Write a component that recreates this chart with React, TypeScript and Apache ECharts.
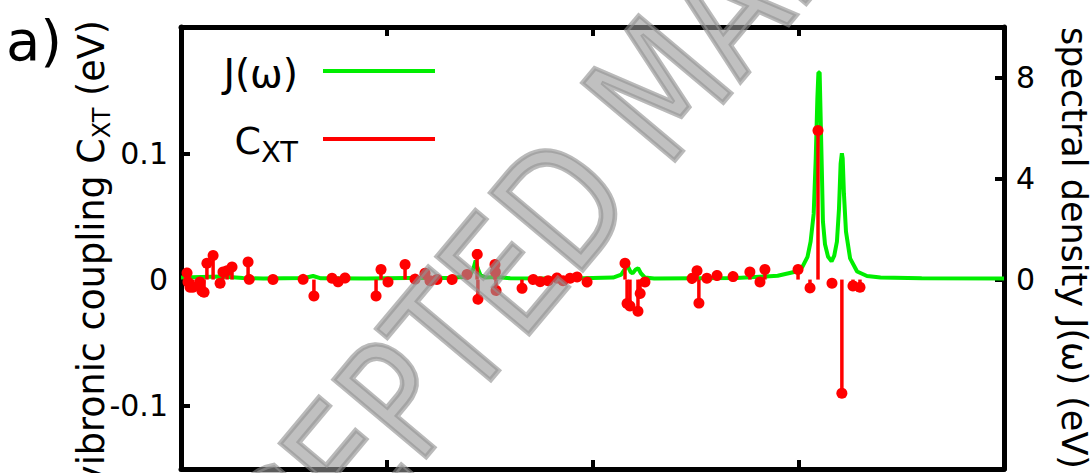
import React, { useEffect, useRef } from 'react';
import * as echarts from 'echarts';

// x axis (frequency) tick positions
const xTicks = [0, 1000, 2000, 3000, 4000];
// left axis: vibronic coupling C_XT (eV)
const leftTicks = [-0.1, 0, 0.1];
// right axis: spectral density J(w) (eV)
const rightTicks = [0, 4, 8];

// C_XT impulses: frequency and coupling value
const couplingFreq = [
  29, 34, 44, 58, 92, 102, 112, 126, 156, 190, 204, 224, 248, 326, 331, 447, 593, 646, 734, 763,
  797, 948, 972, 1006, 1089, 1137, 1186, 1210, 1244, 1317, 1390, 1439, 1443, 1526, 1528, 1531, 1657, 1711, 1745, 1784,
  1827, 1857, 1891, 1925, 1973, 2158, 2168, 2182, 2221, 2231, 2255, 2483, 2508, 2517, 2556, 2605, 2683, 2765, 2814, 2838,
  2999, 3057, 3096, 3164, 3212, 3266, 3300,
];
const couplingValue = [
  0.006, -0.002, -0.006, -0.006, -0.002, -0.009, -0.01, 0.013, 0.019, -0.003, 0.006, 0.007, 0.01, 0.014, 0.001, 0.0, 0.001, -0.013, 0.001, -0.001,
  0.002, -0.013, 0.008, -0.002, 0.012, 0.001, 0.005, -0.001, 0.0, 0.001, 0.004, 0.021, -0.015, 0.012, 0.006, -0.008, -0.006, 0.001, -0.001, -0.001,
  0.002, -0.001, 0.001, 0.002, -0.001, 0.013, -0.019, -0.021, -0.025, -0.01, -0.002, 0.002, 0.007, -0.018, 0.001, 0.004, 0.003, 0.006, -0.002, 0.008,
  0.008, -0.006, 0.118, -0.003, -0.09, -0.005, -0.006,
];

// J(w) curve
const jFreq = [
  0, 100, 200, 300, 400, 600, 642, 680, 900, 1100, 1300, 1400, 1420, 1432, 1442, 1455, 1480, 1530, 1600, 1900,
  2100, 2140, 2160, 2170, 2185, 2195, 2210, 2222, 2235, 2255, 2300, 2700, 2900, 2980, 3020, 3045, 3060, 3075, 3085, 3093,
  3098, 3104, 3110, 3115, 3120, 3130, 3145, 3162, 3175, 3188, 3198, 3206, 3212, 3216, 3222, 3232, 3252, 3286, 3334, 3400,
  3600, 4000,
];
const jValue = [
  0.08, 0.1, 0.12, 0.06, 0.04, 0.06, 0.14, 0.05, 0.04, 0.06, 0.06, 0.12, 0.4, 0.75, 0.45, 0.18, 0.08, 0.1, 0.05, 0.04,
  0.08, 0.2, 0.45, 0.55, 0.3, 0.25, 0.4, 0.45, 0.25, 0.08, 0.04, 0.06, 0.15, 0.3, 0.5, 0.9, 1.5, 2.6, 4.8, 7.2,
  8.2, 8.2, 6.0, 4.2, 2.3, 1.4, 0.9, 0.72, 0.95, 1.5, 2.8, 4.6, 5.0, 4.8, 3.4, 1.9, 0.84, 0.32, 0.14, 0.08,
  0.05, 0.04,
];

// texts
const leftTitleMain = 'vibronic coupling C';
const leftTitleSub = 'XT';
const leftTitleEnd = ' (eV)';
const rightTitle = 'spectral density J(ω) (eV)';
const legendJ = 'J(ω)';
const legendC = 'C';
const legendCSub = 'XT';
const watermark = 'ACCEPTED MANUSCRIPT';

const FONT = 'DejaVu Sans';
const GREEN = '#00ee00';
const RED = '#ff0000';

function measure(text: string, size: number): number {
  const ctx = document.createElement('canvas').getContext('2d');
  if (!ctx) return text.length * size * 0.6;
  ctx.font = `${size}px "${FONT}"`;
  return ctx.measureText(text).width;
}

export default function App() {
  const ref = useRef<HTMLDivElement>(null);
  useEffect(() => {
    if (!ref.current) return;
    const chart = echarts.init(ref.current, undefined, { renderer: 'svg' });
    const axisLine = { show: true, onZero: false, lineStyle: { color: '#000', width: 5 } };
    const tick = { show: true, inside: true, length: 9, lineStyle: { color: '#000', width: 4 } };

    // left title pieces (rotated, reading upwards)
    const mainSize = 36.5;
    const subSize = 24;
    const w1 = measure(leftTitleMain, mainSize);
    const w2 = measure(leftTitleSub, subSize);
    const w3 = measure(leftTitleEnd, mainSize);
    const titleTop = 20;
    const titleStartY = titleTop + w1 + w2 + w3;

    const legSubW = measure(legendCSub, 29);

    const option: any = {
      animation: false,
      backgroundColor: '#fff',
      grid: { left: 181, right: 88, top: 27, bottom: 4, containLabel: false, outerBoundsMode: 'none' },
      xAxis: [
        {
          type: 'value', min: xTicks[0], max: xTicks[xTicks.length - 1], interval: 1000, position: 'bottom',
          axisLine, axisTick: tick, axisLabel: { show: false }, splitLine: { show: false },
        },
        {
          type: 'value', min: xTicks[0], max: xTicks[xTicks.length - 1], interval: 1000, position: 'top',
          axisLine, axisTick: tick, axisLabel: { show: false }, splitLine: { show: false },
        },
      ],
      yAxis: [
        {
          type: 'value', position: 'left', min: -0.15, max: 0.2,
          axisLine, splitLine: { show: false },
          axisTick: { ...tick, customValues: leftTicks },
          axisLabel: {
            customValues: leftTicks, formatter: (v: number) => String(v),
            fontSize: 30, fontFamily: FONT, color: '#000', margin: 13,
          },
        },
        {
          type: 'value', position: 'right', min: -7.5, max: 10,
          axisLine, splitLine: { show: false },
          axisTick: { ...tick, customValues: rightTicks },
          axisLabel: {
            customValues: rightTicks, formatter: (v: number) => String(v),
            fontSize: 30, fontFamily: FONT, color: '#000', margin: 12,
          },
          name: rightTitle,
          nameLocation: 'middle', nameRotate: -90, nameGap: 52,
          nameTextStyle: { fontSize: 35, fontFamily: FONT, color: '#000' },
        },
      ],
      series: [
        {
          name: legendJ, type: 'line', xAxisIndex: 0, yAxisIndex: 1,
          data: jFreq.map((f, i) => [f, jValue[i]]),
          showSymbol: false, symbol: 'none',
          lineStyle: { color: GREEN, width: 4 },
          z: 2,
        },
        {
          name: 'C_XT', type: 'custom', xAxisIndex: 0, yAxisIndex: 0,
          data: couplingFreq.map((f, i) => [f, couplingValue[i]]),
          encode: { x: 0, y: 1 },
          z: 3,
          renderItem: (params: any, api: any) => {
            const x = api.value(0);
            const v = api.value(1);
            const p0 = api.coord([x, 0]);
            const p1 = api.coord([x, v]);
            return {
              type: 'group',
              children: [
                { type: 'line', shape: { x1: p0[0], y1: p0[1], x2: p1[0], y2: p1[1] }, style: { stroke: RED, lineWidth: 3.5 } },
                { type: 'circle', shape: { cx: p1[0], cy: p1[1], r: 5.5 }, style: { fill: RED } },
              ],
            };
          },
        },
      ],
      graphic: [
        { type: 'text', left: 6, top: 12, style: { text: 'a)', fontSize: 56, fontFamily: FONT, fill: '#000' } },
        // left axis title
        {
          type: 'group', x: 91, y: titleStartY, rotation: Math.PI / 2,
          children: [
            { type: 'text', x: 0, y: 0, style: { text: leftTitleMain, fontSize: mainSize, fontFamily: FONT, fill: '#000', align: 'left', verticalAlign: 'middle' } },
            { type: 'text', x: w1, y: 11, style: { text: leftTitleSub, fontSize: subSize, fontFamily: FONT, fill: '#000', align: 'left', verticalAlign: 'middle' } },
            { type: 'text', x: w1 + w2, y: 0, style: { text: leftTitleEnd, fontSize: mainSize, fontFamily: FONT, fill: '#000', align: 'left', verticalAlign: 'middle' } },
          ],
        },
        // legend
        { type: 'text', x: 298, y: 73, style: { text: legendJ, fontSize: 39, fontFamily: FONT, fill: '#000', align: 'right', verticalAlign: 'middle' } },
        { type: 'line', shape: { x1: 323, y1: 71, x2: 435, y2: 71 }, style: { stroke: GREEN, lineWidth: 4 } },
        { type: 'text', x: 298, y: 152, style: { text: legendCSub, fontSize: 29, fontFamily: FONT, fill: '#000', align: 'right', verticalAlign: 'middle' } },
        { type: 'text', x: 298 - legSubW, y: 141, style: { text: legendC, fontSize: 38, fontFamily: FONT, fill: '#000', align: 'right', verticalAlign: 'middle' } },
        { type: 'line', shape: { x1: 323, y1: 139, x2: 435, y2: 139 }, style: { stroke: RED, lineWidth: 4 } },
        // watermark
        {
          type: 'text', x: 662, y: 86, rotation: (50 * Math.PI) / 180, scaleX: 0.8, z: 100, silent: true,
          style: {
            text: watermark, fontSize: 165, fontFamily: 'DejaVu Sans',
            fill: 'rgba(150,150,150,0.6)', stroke: 'rgba(140,140,140,0.6)', lineWidth: 5,
            shadowColor: 'rgba(0,0,0,0.25)', shadowBlur: 4, shadowOffsetX: 3, shadowOffsetY: 3,
            align: 'center', verticalAlign: 'middle',
          },
        },
      ],
    };
    chart.setOption(option);
    return () => chart.dispose();
  }, []);
  return <div ref={ref} style={{ position: 'fixed', left: 0, top: 0, width: 1092, height: 473 }} />;
}
